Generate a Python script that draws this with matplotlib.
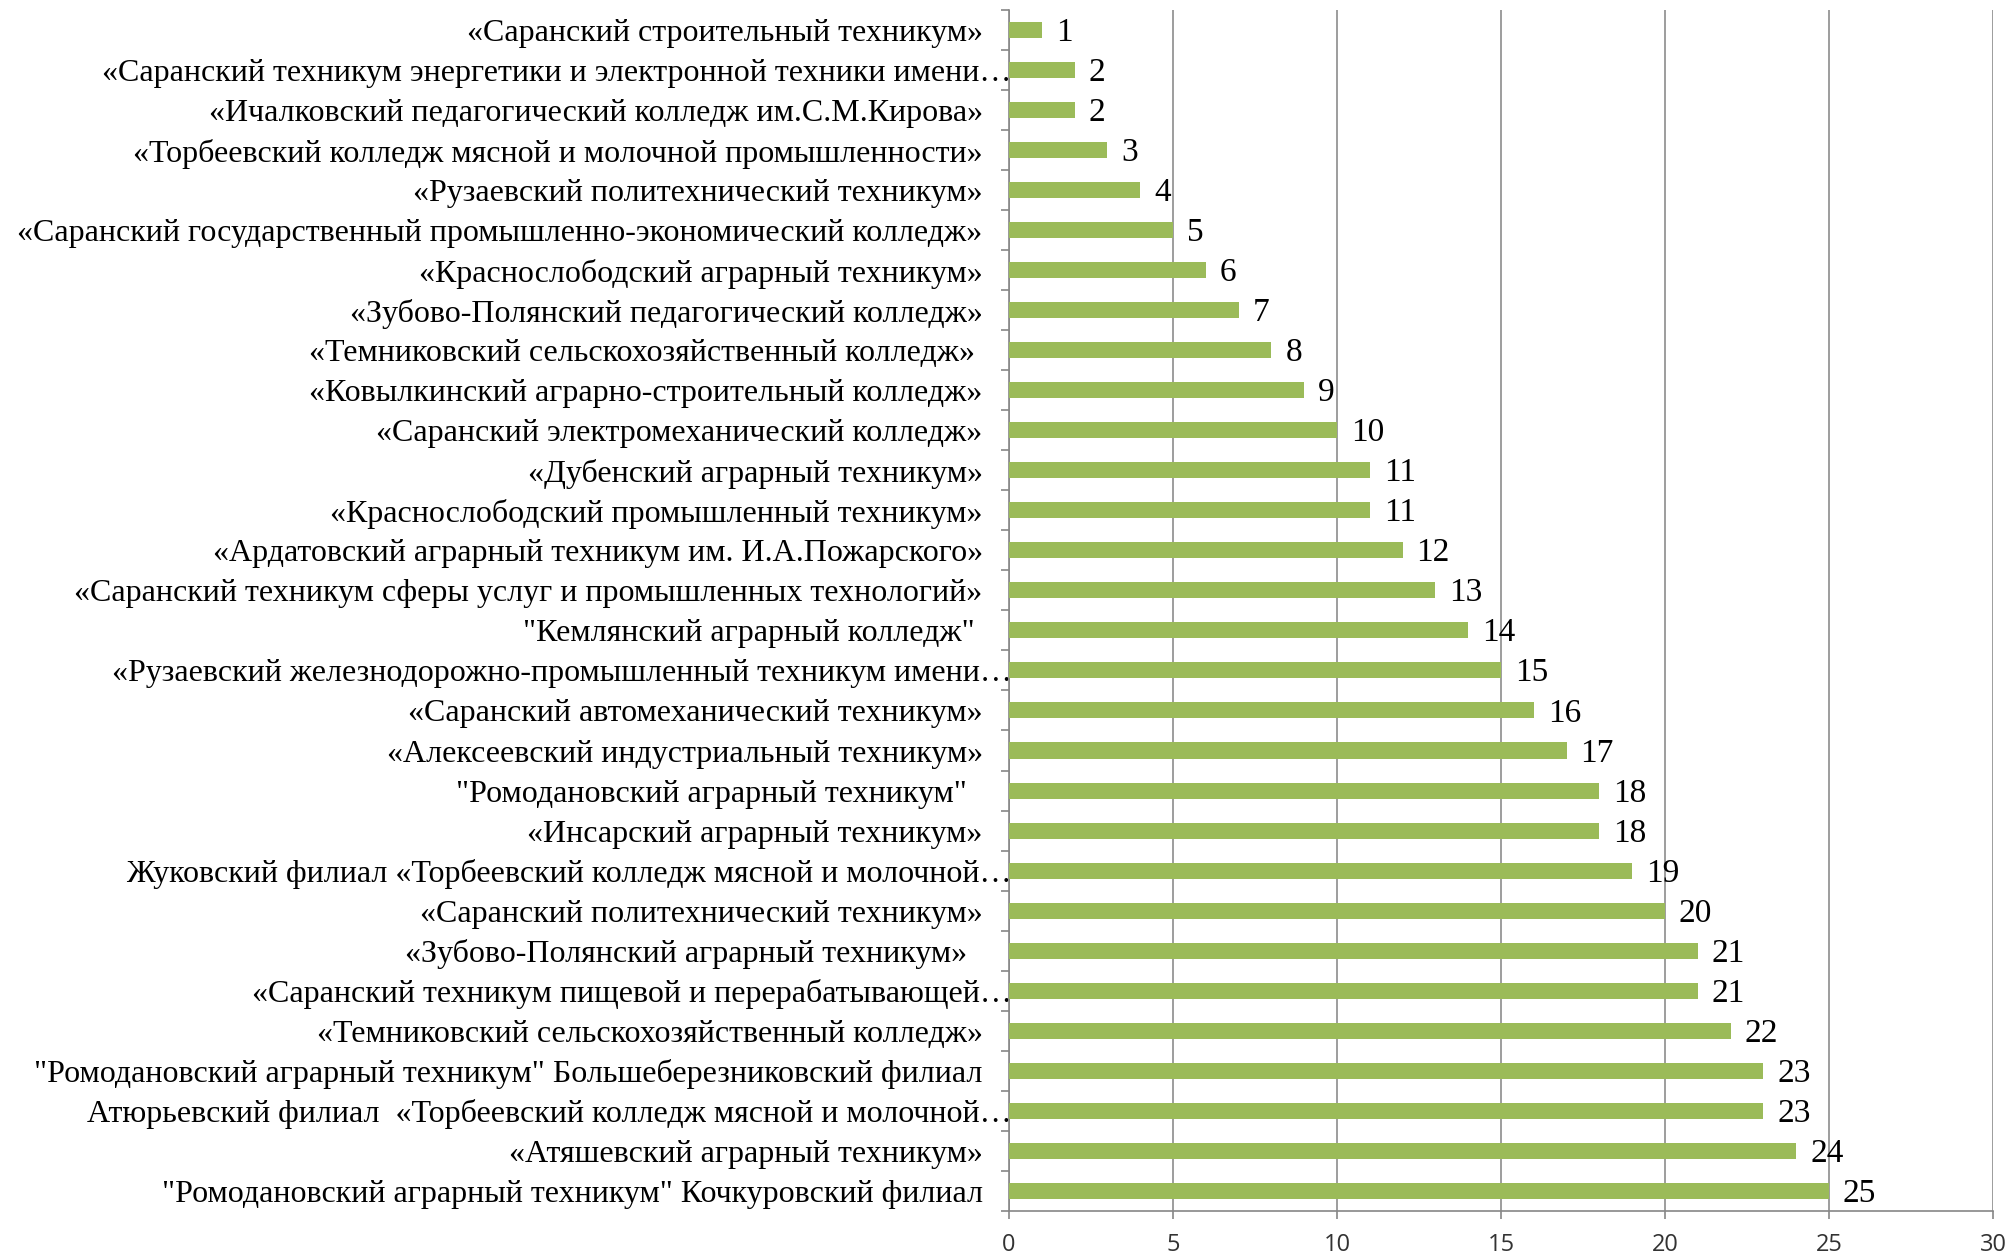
import matplotlib
matplotlib.use("Agg")
import matplotlib.pyplot as plt
from matplotlib.transforms import ScaledTranslation

categories = [
    "«Саранский строительный техникум»",
    "«Саранский техникум энергетики и электронной техники имени…",
    "«Ичалковский педагогический колледж им.С.М.Кирова»",
    "«Торбеевский колледж мясной и молочной промышленности»",
    "«Рузаевский политехнический техникум»",
    "«Саранский государственный промышленно-экономический колледж»",
    "«Краснослободский аграрный техникум»",
    "«Зубово-Полянский педагогический колледж»",
    "«Темниковский сельскохозяйственный колледж» ",
    "«Ковылкинский аграрно-строительный колледж»",
    "«Саранский электромеханический колледж»",
    "«Дубенский аграрный техникум»",
    "«Краснослободский промышленный техникум»",
    "«Ардатовский аграрный техникум им. И.А.Пожарского»",
    "«Саранский техникум сферы услуг и промышленных технологий»",
    "\"Кемлянский аграрный колледж\" ",
    "«Рузаевский железнодорожно-промышленный техникум имени…",
    "«Саранский автомеханический техникум»",
    "«Алексеевский индустриальный техникум»",
    "\"Ромодановский аграрный техникум\"  ",
    "«Инсарский аграрный техникум»",
    "Жуковский филиал «Торбеевский колледж мясной и молочной…",
    "«Саранский политехнический техникум»",
    "«Зубово-Полянский аграрный техникум»  ",
    "«Саранский техникум пищевой и перерабатывающей…",
    "«Темниковский сельскохозяйственный колледж»",
    "\"Ромодановский аграрный техникум\" Большеберезниковский филиал",
    "Атюрьевский филиал  «Торбеевский колледж мясной и молочной…",
    "«Атяшевский аграрный техникум»",
    "\"Ромодановский аграрный техникум\" Кочкуровский филиал",
]
values = [1, 2, 2, 3, 4, 5, 6, 7, 8, 9, 10, 11, 11, 12, 13, 14, 15, 16, 17, 18,
          18, 19, 20, 21, 21, 22, 23, 23, 24, 25]
xticks = [0, 5, 10, 15, 20, 25, 30]

fig = plt.figure(figsize=(20.08, 12.56), dpi=100)
ax = fig.add_axes([0.5025, 0.036, 0.49, 0.956])

n = len(categories)
ypos = list(range(n))
ax.barh(ypos, values, height=0.4, color="#9BBB59", zorder=3)
ax.set_ylim(n - 0.5, -0.5)
ax.set_xlim(0, 30)
ax.set_xticks(xticks)
ax.set_xticklabels([str(t) for t in xticks], fontsize=17, family="Open Sans", color="#333333")
ax.set_yticks(ypos)
ax.set_yticklabels(categories, fontsize=23, family="Liberation Serif")
ax.tick_params(axis="y", length=0, pad=19)
ax.set_yticks([i - 0.5 for i in range(n + 1)], minor=True)
ax.tick_params(axis="y", which="minor", length=6, color="#868686", width=1.2)
ax.tick_params(axis="x", length=6, color="#868686", width=1.2, pad=10)

for lab in ax.get_yticklabels():
    if lab.get_text().endswith("…"):
        lab.set_transform(lab.get_transform() + ScaledTranslation(0.29, 0, fig.dpi_scale_trans))

ax.grid(axis="x", color="#8c8c8c", linewidth=1.2, zorder=0)
for s in ["top", "right"]:
    ax.spines[s].set_visible(False)
for s in ["left", "bottom"]:
    ax.spines[s].set_color("#868686")
    ax.spines[s].set_linewidth(1.2)

for y, v in zip(ypos, values):
    ax.annotate(str(v), (v, y), xytext=(10, -2), textcoords="offset points",
                va="center", ha="left", fontsize=24, family="Liberation Serif")

fig.savefig("out.png", dpi=100)
